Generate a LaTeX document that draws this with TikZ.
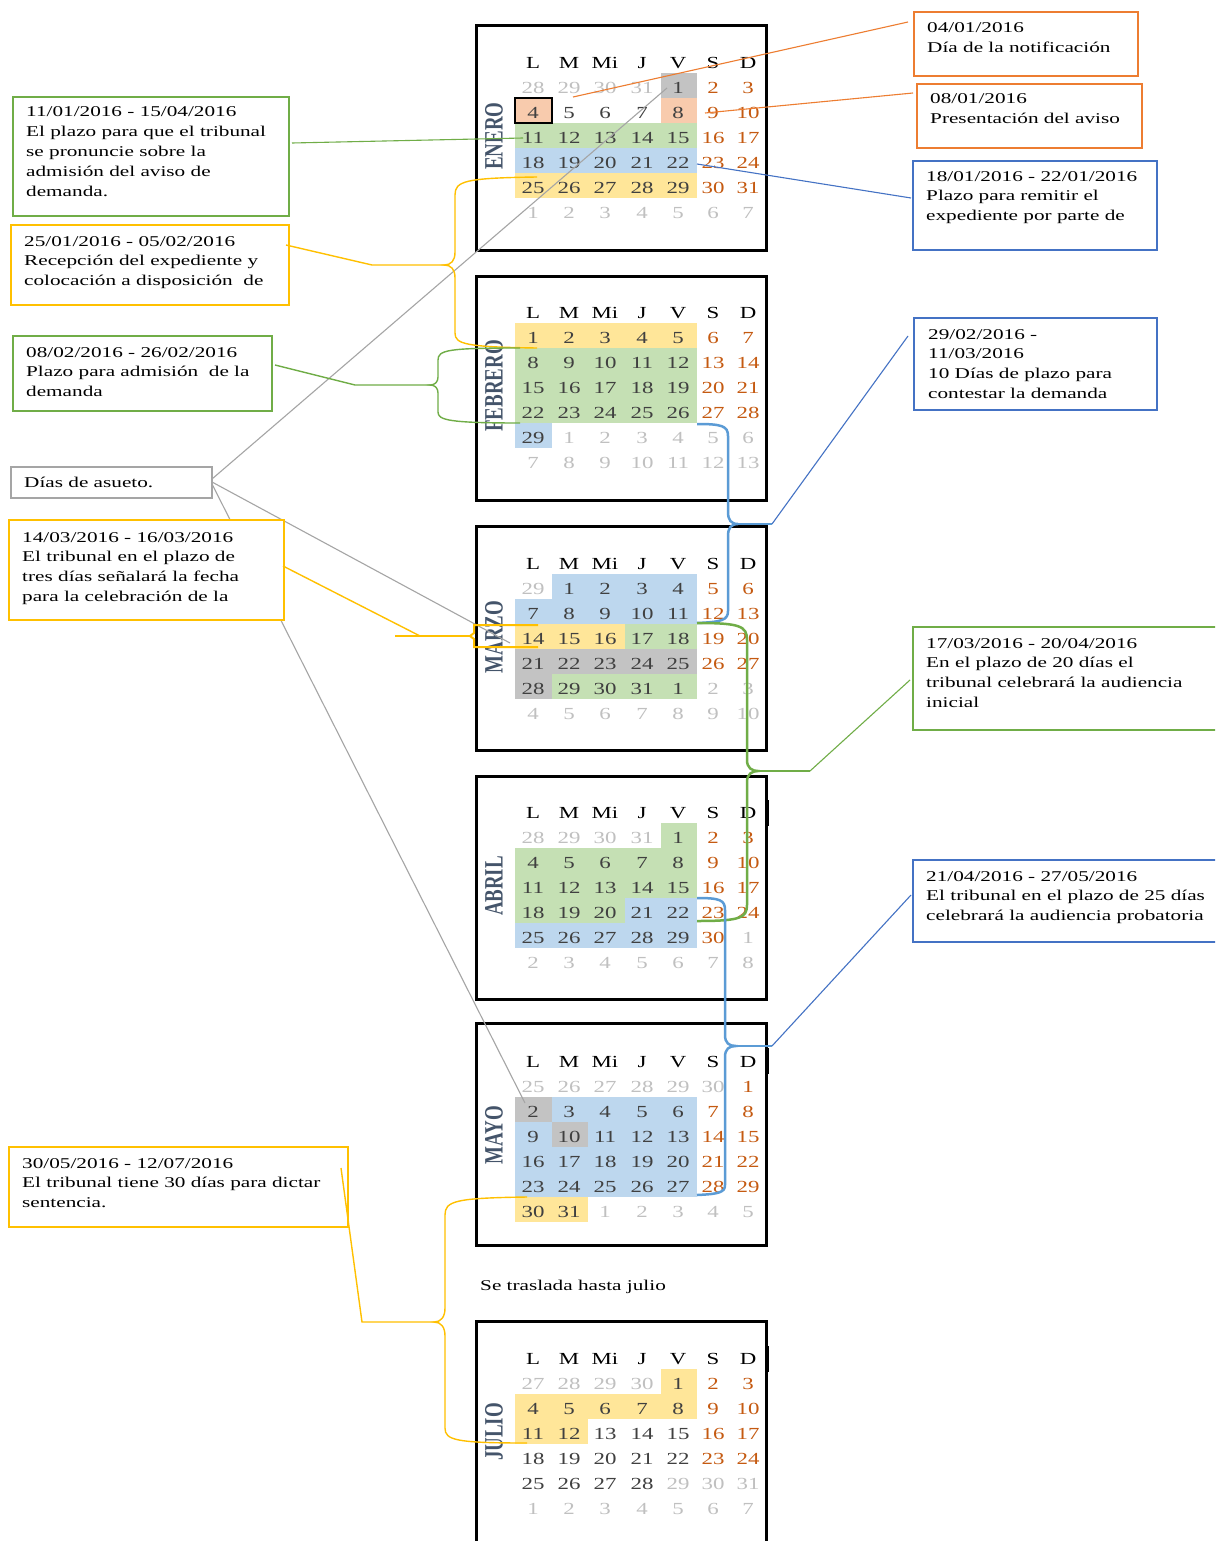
\documentclass[tikz,border=0pt]{standalone}
\usepackage{fontspec}
\usepackage{graphicx}
\setmainfont{Liberation Serif}[FakeStretch=1.42]
\newfontfamily\calfont{Liberation Serif}[FakeStretch=1.35]
\newfontfamily\monthfont{Liberation Serif}

% outline colours
\definecolor{cgreen}{HTML}{70AD47}
\definecolor{cyellow}{HTML}{FFC000}
\definecolor{corange}{HTML}{ED7D31}
\definecolor{cblue}{HTML}{4472C4}
\definecolor{cbrace}{HTML}{5B9BD5}
\definecolor{cgrey}{HTML}{A5A5A5}
% cell fills
\definecolor{fgray}{HTML}{C3C3C3}
\definecolor{forange}{HTML}{F8CBAD}
\definecolor{fgreen}{HTML}{C5E0B4}
\definecolor{fblue}{HTML}{BDD7EE}
\definecolor{fyellow}{HTML}{FFE699}
% day numbers
\definecolor{td}{HTML}{404040}
\definecolor{to}{HTML}{C0C0C0}
\definecolor{tw}{HTML}{C55A11}
\definecolor{cmonth}{HTML}{44546A}

\tikzset{
  num/.style={inner sep=0pt, anchor=base, font=\calfont\fontsize{17}{20}\selectfont},
  calframe/.style={draw=black, line width=3bp},
  infobox/.style={line width=2bp, fill=white, inner sep=0pt, anchor=north west},
  infotext/.style={inner sep=0pt, anchor=base west, font=\fontsize{15}{20}\selectfont},
  thinline/.style={line width=1.1bp},
  thickbrace/.style={line width=2.5bp},
  lightbrace/.style={line width=1.4bp},
  monthlabel/.style={inner sep=0pt, text=cmonth},
}

% shade cells #3..#4 of row #2 in the calendar whose top is #1
\newcommand\cellfill[5]{%
  \pgfmathsetmacro\xa{{515,551.5,588,624.5,661,697}[#3-1]}%
  \pgfmathsetmacro\xb{{515,551.5,588,624.5,661,697}[#4]}%
  \fill[#5] (\xa,#1+22+25*#2) rectangle (\xb,#1+47+25*#2);}

% weekday header row
\newcommand\calhead[2]{%
  \foreach \h [count=\i from 0] in {L,M,Mi,J,V,S,D} {
    \pgfmathsetmacro\xc{{533,569,605,642,678,713,748}[\i]}
    \node[num, text=black] (#2-h\i) at (\xc,#1+42.5) {\h};
  }}

% six rows of day numbers: number/colour class
\newcommand\calnums[3]{%
  \foreach \n/\c [count=\i from 0] in {#3} {
    \pgfmathtruncatemacro\rr{int(\i/7)+1}
    \pgfmathtruncatemacro\kk{mod(\i,7)}
    \pgfmathsetmacro\xc{{533,569,605,642,678,713,748}[\kk]}
    \node[num, text=t\c] (#2-\i) at (\xc,#1+42.5+25*\rr) {\n};
  }}

\newcommand\monthname[3]{%
  \node[monthlabel] (#2-lbl) at (494,#1+110)
    {\rotatebox{90}{\scalebox{1}[1.4]{\monthfont\fontsize{19}{19}\selectfont\bfseries #3}}};}

\begin{document}
\begin{tikzpicture}[x=1bp,y=-1bp]
\useasboundingbox (0,0) rectangle (1215,1541);
\clip (0,0) rectangle (1215,1541);
\fill[white] (0,0) rectangle (1215,1541);

% ---------- ENERO ----------
\cellfill{26}{1}{5}{5}{fgray}
\cellfill{26}{2}{1}{1}{forange}
\cellfill{26}{2}{5}{5}{forange}
\cellfill{26}{3}{1}{5}{fgreen}
\cellfill{26}{4}{1}{5}{fblue}
\cellfill{26}{5}{1}{5}{fyellow}
\draw[line width=2bp] (515,98) rectangle (551.5,123);
\calhead{26}{ene}
\calnums{26}{ene}{28/o,29/o,30/o,31/o,1/d,2/w,3/w,
  4/d,5/d,6/d,7/d,8/d,9/w,10/w,
  11/d,12/d,13/d,14/d,15/d,16/w,17/w,
  18/d,19/d,20/d,21/d,22/d,23/w,24/w,
  25/d,26/d,27/d,28/d,29/d,30/w,31/w,
  1/o,2/o,3/o,4/o,5/o,6/o,7/o}
\monthname{26}{ene}{ENERO}
\draw[calframe] (476,26) rectangle (766,250);

% ---------- FEBRERO ----------
\cellfill{276}{1}{1}{5}{fyellow}
\cellfill{276}{2}{1}{5}{fgreen}
\cellfill{276}{3}{1}{5}{fgreen}
\cellfill{276}{4}{1}{5}{fgreen}
\cellfill{276}{5}{1}{1}{fblue}
\calhead{276}{feb}
\calnums{276}{feb}{1/d,2/d,3/d,4/d,5/d,6/w,7/w,
  8/d,9/d,10/d,11/d,12/d,13/w,14/w,
  15/d,16/d,17/d,18/d,19/d,20/w,21/w,
  22/d,23/d,24/d,25/d,26/d,27/w,28/w,
  29/d,1/o,2/o,3/o,4/o,5/o,6/o,
  7/o,8/o,9/o,10/o,11/o,12/o,13/o}
\monthname{276}{feb}{FEBRERO}
\draw[calframe] (476,276) rectangle (766,500);

% ---------- MARZO ----------
\cellfill{527}{1}{2}{5}{fblue}
\cellfill{527}{2}{1}{5}{fblue}
\cellfill{527}{3}{1}{3}{fyellow}
\cellfill{527}{3}{4}{5}{fgreen}
\cellfill{527}{4}{1}{5}{fgray}
\cellfill{527}{5}{1}{1}{fgray}
\cellfill{527}{5}{2}{5}{fgreen}
\calhead{527}{mar}
\calnums{527}{mar}{29/o,1/d,2/d,3/d,4/d,5/w,6/w,
  7/d,8/d,9/d,10/d,11/d,12/w,13/w,
  14/d,15/d,16/d,17/d,18/d,19/w,20/w,
  21/d,22/d,23/d,24/d,25/d,26/w,27/w,
  28/d,29/d,30/d,31/d,1/d,2/o,3/o,
  4/o,5/o,6/o,7/o,8/o,9/o,10/o}
\monthname{527}{mar}{MARZO}
\draw[calframe] (476,526) rectangle (766,750);

% ---------- ABRIL ----------
\cellfill{776}{1}{5}{5}{fgreen}
\cellfill{776}{2}{1}{5}{fgreen}
\cellfill{776}{3}{1}{5}{fgreen}
\cellfill{776}{4}{1}{3}{fgreen}
\cellfill{776}{4}{4}{5}{fblue}
\cellfill{776}{5}{1}{5}{fblue}
\calhead{776}{abr}
\calnums{776}{abr}{28/o,29/o,30/o,31/o,1/d,2/w,3/w,
  4/d,5/d,6/d,7/d,8/d,9/w,10/w,
  11/d,12/d,13/d,14/d,15/d,16/w,17/w,
  18/d,19/d,20/d,21/d,22/d,23/w,24/w,
  25/d,26/d,27/d,28/d,29/d,30/w,1/o,
  2/o,3/o,4/o,5/o,6/o,7/o,8/o}
\monthname{776}{abr}{ABRIL}
\draw[calframe] (476,776) rectangle (766,999);
\draw[line width=3.5bp] (767,800) -- (767,826);

% ---------- MAYO ----------
\cellfill{1025}{2}{1}{1}{fgray}
\cellfill{1025}{2}{2}{5}{fblue}
\cellfill{1025}{3}{1}{1}{fblue}
\cellfill{1025}{3}{2}{2}{fgray}
\cellfill{1025}{3}{3}{5}{fblue}
\cellfill{1025}{4}{1}{5}{fblue}
\cellfill{1025}{5}{1}{5}{fblue}
\cellfill{1025}{6}{1}{2}{fyellow}
\calhead{1025}{may}
\calnums{1025}{may}{25/o,26/o,27/o,28/o,29/o,30/o,1/w,
  2/d,3/d,4/d,5/d,6/d,7/w,8/w,
  9/d,10/d,11/d,12/d,13/d,14/w,15/w,
  16/d,17/d,18/d,19/d,20/d,21/w,22/w,
  23/d,24/d,25/d,26/d,27/d,28/w,29/w,
  30/d,31/d,1/o,2/o,3/o,4/o,5/o}
\monthname{1025}{may}{MAYO}
\draw[calframe] (476,1023) rectangle (766,1245);
\draw[line width=3.5bp] (767,1048) -- (767,1074);

% ---------- JULIO ----------
\cellfill{1322}{1}{5}{5}{fyellow}
\cellfill{1322}{2}{1}{5}{fyellow}
\cellfill{1322}{3}{1}{2}{fyellow}
\calhead{1322}{jul}
\calnums{1322}{jul}{27/o,28/o,29/o,30/o,1/d,2/w,3/w,
  4/d,5/d,6/d,7/d,8/d,9/w,10/w,
  11/d,12/d,13/d,14/d,15/d,16/w,17/w,
  18/d,19/d,20/d,21/d,22/d,23/w,24/w,
  25/d,26/d,27/d,28/d,29/o,30/o,31/o,
  1/o,2/o,3/o,4/o,5/o,6/o,7/o}
\monthname{1322}{jul}{JULIO}
\draw[calframe] (476,1321) rectangle (766,1570);
\draw[line width=3.5bp] (767,1346) -- (767,1372);

\node[infotext] (traslado) at (480,1290) {Se traslada hasta julio};

% ---------- holidays: grey leader lines ----------
\coordinate (asueto-o1) at (212,479);
\coordinate (asueto-o2) at (212,482);
\coordinate (asueto-o3) at (212,484);
\coordinate (hol-ene) at (667,88);
\coordinate (hol-mar) at (510,643);
\coordinate (hol-may) at (525,1103);
\draw[cgrey, thinline] (asueto-o1) -- (hol-ene);
\draw[cgrey, thinline] (asueto-o2) -- (hol-mar);
\draw[cgrey, thinline] (asueto-o3) -- (hol-may);

% ---------- information boxes ----------
\node[infobox, draw=cgreen, minimum width=276bp, minimum height=119bp] (boxA) at (12,96) {};
\node[infobox, draw=cyellow, minimum width=278bp, minimum height=80bp] (boxB) at (10,224) {};
\node[infobox, draw=cgreen, minimum width=259bp, minimum height=75bp] (boxC) at (12,335) {};
\node[infobox, draw=cgrey, minimum width=201bp, minimum height=31bp] (boxD) at (10,466) {};
\node[infobox, draw=cyellow, minimum width=275bp, minimum height=100bp] (boxE) at (8,519) {};
\node[infobox, draw=cyellow, minimum width=339bp, minimum height=80bp] (boxF) at (8,1146) {};
\node[infobox, draw=corange, minimum width=224bp, minimum height=64bp] (boxG) at (913,11) {};
\node[infobox, draw=corange, minimum width=225bp, minimum height=64bp] (boxH) at (916,83) {};
\node[infobox, draw=cblue, minimum width=244bp, minimum height=89bp] (boxI) at (912,160) {};
\node[infobox, draw=cblue, minimum width=243bp, minimum height=92bp] (boxJ) at (913,317) {};
\node[infobox, draw=cgreen, minimum width=320bp, minimum height=103bp] (boxK) at (912,626) {};
\node[infobox, draw=cblue, minimum width=320bp, minimum height=82bp] (boxL) at (912,859) {};

\node[infotext] (txtA) at (26,117) {\parbox[t]{400pt}{\raggedright 11/01/2016 - 15/04/2016\\El plazo para que el tribunal\\se pronuncie sobre la\\admisión del aviso de\\demanda.}};
\node[infotext] (txtB) at (24,246) {\parbox[t]{400pt}{\raggedright 25/01/2016 - 05/02/2016\\Recepción del expediente y\\colocación a disposición\ \ de}};
\node[infotext] (txtC) at (26,357) {\parbox[t]{400pt}{\raggedright 08/02/2016 - 26/02/2016\\Plazo para admisión\ \ de la\\demanda}};
\node[infotext] (txtD) at (24,487) {Días de asueto.};
\node[infotext] (txtE) at (22,542) {\parbox[t]{400pt}{\raggedright 14/03/2016 - 16/03/2016\\El tribunal en el plazo de\\tres días señalará la fecha\\para la celebración de la}};
\node[infotext] (txtF) at (22,1168) {\parbox[t]{400pt}{\raggedright 30/05/2016 - 12/07/2016\\El tribunal tiene 30 días para dictar\\sentencia.}};
\node[infotext] (txtG) at (927,33) {\parbox[t]{400pt}{\raggedright 04/01/2016\\Día de la notificación}};
\node[infotext] (txtH) at (930,104) {\parbox[t]{400pt}{\raggedright 08/01/2016\\Presentación del aviso}};
\node[infotext] (txtI) at (926,181) {\parbox[t]{400pt}{\raggedright 18/01/2016 - 22/01/2016\\Plazo para remitir el\\expediente por parte de}};
\node[infotext] (txtJ) at (928,339) {\parbox[t]{400pt}{\raggedright 29/02/2016 -\\11/03/2016\\10 Días de plazo para\\contestar la demanda}};
\node[infotext] (txtK) at (926,648) {\parbox[t]{400pt}{\raggedright 17/03/2016 - 20/04/2016\\En el plazo de 20 días el\\tribunal celebrará la audiencia\\inicial}};
\node[infotext] (txtL) at (926,881) {\parbox[t]{400pt}{\raggedright 21/04/2016 - 27/05/2016\\El tribunal en el plazo de 25 días\\celebrará la audiencia probatoria}};

% ---------- straight leaders ----------
\coordinate (outA) at (292,143);
\coordinate (endA) at (523,138);
\draw[cgreen, thinline] (outA) -- (endA);
\coordinate (outG) at (908,22);
\coordinate (endG) at (573,97);
\draw[corange, thinline] (outG) -- (endG);
\coordinate (outH) at (913,93);
\coordinate (endH) at (705,113);
\draw[corange, thinline] (outH) -- (endH);
\coordinate (outI) at (911,198);
\coordinate (endI) at (697,164);
\draw[cblue, thinline] (outI) -- (endI);

% ---------- left braces ----------
\coordinate (tipB) at (444,265);
\draw[cyellow, lightbrace] (537,177) .. controls (465,178) and (455,181) .. (455,195) -- (455,252)
  .. controls (455,261) and (451,265) .. (tipB) .. controls (451,265) and (455,269) .. (455,278)
  -- (455,333) .. controls (455,344) and (465,347) .. (537,348);
\draw[cyellow, lightbrace] (tipB) -- (372,265) -- (286,245);

\coordinate (tipC) at (430,385);
\draw[cgreen, lightbrace] (520,348) .. controls (448,348) and (438,350) .. (438,360) -- (438,377)
  .. controls (438,382) and (435,385) .. (tipC) .. controls (435,385) and (438,388) .. (438,393)
  -- (438,412) .. controls (438,420) and (448,423) .. (520,423);
\draw[cgreen, lightbrace] (tipC) -- (355,385) -- (275,365);

\coordinate (tipE) at (470,636);
\draw[cyellow, line width=2bp] (538,625) -- (474,625) -- (474,633) -- (tipE) -- (474,639) -- (474,647) -- (538,647);
\draw[cyellow, line width=1.5bp] (tipE) -- (395,636);
\draw[cyellow, lightbrace] (283,566) -- (420,636);

\coordinate (tipF) at (434,1322);
\draw[cyellow, lightbrace] (527,1197) .. controls (455,1198) and (445,1201) .. (445,1215) -- (445,1308)
  .. controls (445,1317) and (441,1322) .. (tipF) .. controls (441,1322) and (445,1327) .. (445,1336)
  -- (445,1428) .. controls (445,1440) and (455,1443) .. (527,1443);
\draw[cyellow, lightbrace] (tipF) -- (362,1322) -- (341,1168);

% ---------- right braces ----------
\coordinate (tipJ) at (738,524);
\draw[cbrace, thickbrace] (697,424) .. controls (722,424) and (728,426) .. (728,436) -- (728,512)
  .. controls (728,520) and (731,524) .. (tipJ) .. controls (731,524) and (728,528) .. (728,536)
  -- (728,611) .. controls (728,620) and (722,622) .. (697,623);
\draw[cbrace, thickbrace] (tipJ) -- (772,524);
\draw[cblue, thinline] (772,524) -- (908,336);

\coordinate (tipK) at (758,771);
\draw[cgreen, thickbrace] (697,623) .. controls (740,623) and (747,626) .. (747,640) -- (747,760)
  .. controls (747,768) and (752,771) .. (tipK) .. controls (752,771) and (747,774) .. (747,782)
  -- (747,905) .. controls (747,918) and (740,921) .. (697,921);
\draw[cgreen, line width=1.8bp] (tipK) -- (810,771);
\draw[cgreen, thinline] (810,771) -- (910,680);

\coordinate (tipL) at (736,1046);
\draw[cbrace, thickbrace] (697,898) .. controls (720,898) and (725,900) .. (725,910) -- (725,1035)
  .. controls (725,1043) and (729,1046) .. (tipL) .. controls (729,1046) and (725,1049) .. (725,1057)
  -- (725,1185) .. controls (725,1192) and (720,1194) .. (697,1195);
\draw[cbrace, thickbrace] (tipL) -- (772,1046);
\draw[cblue, thinline] (772,1046) -- (911,895);
\end{tikzpicture}
\end{document}
